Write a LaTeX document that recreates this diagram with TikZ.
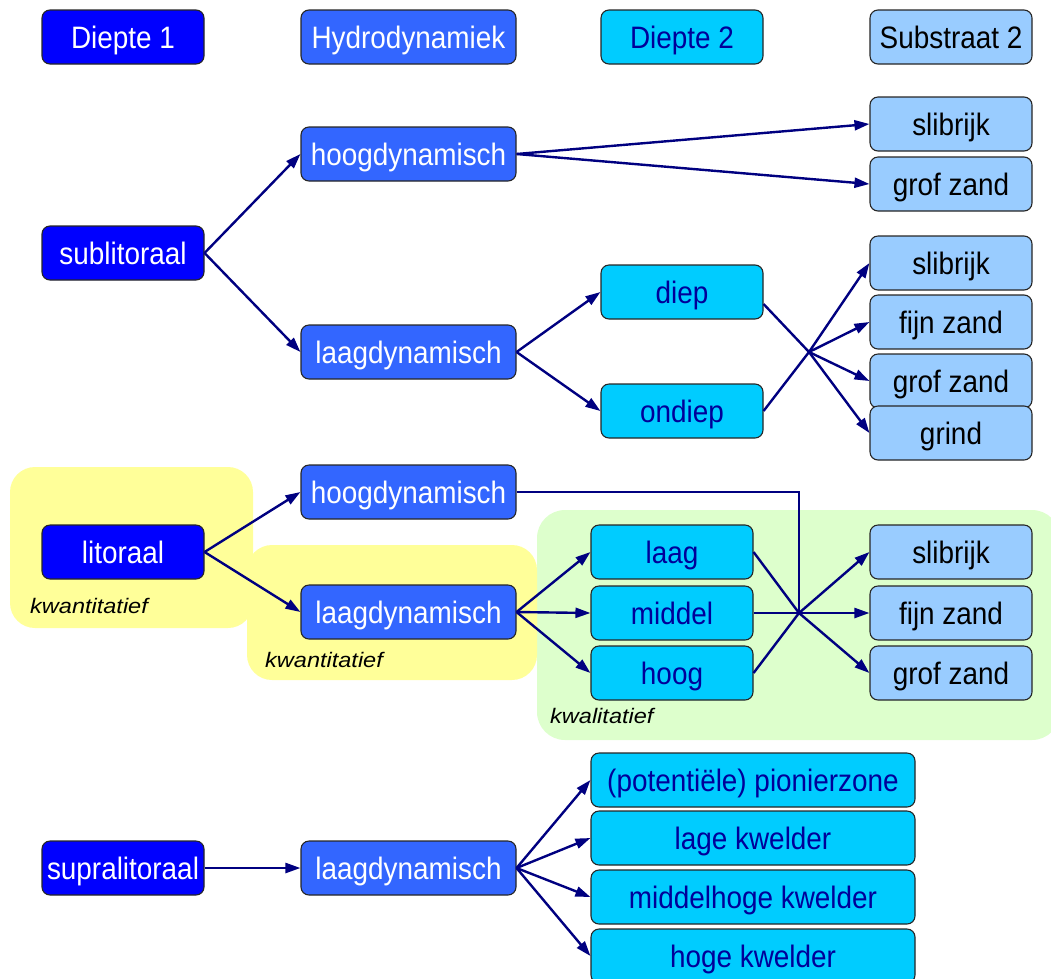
\documentclass[tikz,border=0pt]{standalone}
\usepackage{fontspec}
\setmainfont{Liberation Sans}[FakeStretch=0.9]
\newfontfamily\notefont{Liberation Sans Italic}[FakeStretch=1.12]
\usetikzlibrary{arrows.meta,calc}
\definecolor{dOne}{RGB}{0,0,255}
\definecolor{hydro}{RGB}{51,102,255}
\definecolor{dTwo}{RGB}{0,204,255}
\definecolor{subc}{RGB}{153,204,255}
\definecolor{arr}{RGB}{0,0,128}
\definecolor{txtb}{RGB}{0,0,153}
\definecolor{yel}{RGB}{255,255,153}
\definecolor{grn}{RGB}{221,255,204}
\begin{document}
\begin{tikzpicture}[x=1pt,y=-1pt,
 box/.style={draw=black!85, line width=1.1pt, rounded corners=8pt, minimum height=54pt, inner sep=0pt, text height=22pt, text depth=0pt, font=\fontsize{31}{34}\selectfont},
 bA/.style={box, fill=dOne, text=white, minimum width=162pt},
 bB/.style={box, fill=hydro, text=white, minimum width=215pt},
 bC/.style={box, fill=dTwo, text=txtb, minimum width=162pt},
 bD/.style={box, fill=subc, text=black, minimum width=162pt},
 bE/.style={box, fill=dTwo, text=txtb, minimum width=324pt},
 ar/.style={draw=arr, line width=2.4pt, -{Triangle[length=15pt,width=10pt]}},
 ln/.style={draw=arr, line width=2.4pt},
 note/.style={font=\notefont\fontsize{21}{23}\selectfont, anchor=base west, inner sep=0pt}]
\useasboundingbox (0,0) rectangle (1051,978);
% backgrounds
\fill[grn, rounded corners=28pt] (537,510) rectangle (1060,740);
\fill[yel, rounded corners=25pt] (247,545) rectangle (537,680);
\fill[yel, rounded corners=25pt] (10,467) rectangle (253,628);
\node[note] (k1) at (30,613) {kwantitatief};
\node[note] (k2) at (265,667) {kwantitatief};
\node[note] (k3) at (550,723) {kwalitatief};
% header
\node[bA] (h1) at (123,37) {Diepte 1};
\node[bB] (h2) at (408.5,37) {Hydrodynamiek};
\node[bC] (h3) at (682,37) {Diepte 2};
\node[bD] (h4) at (951,37) {Substraat 2};
% sublitoraal
\node[bA] (sub) at (123,253) {sublitoraal};
\node[bB] (shd) at (408.5,154) {hoogdynamisch};
\node[bB] (sld) at (408.5,352) {laagdynamisch};
\node[bD] (s1) at (951,124) {slibrijk};
\node[bD] (s2) at (951,184) {grof zand};
\node[bC] (diep) at (682,292) {diep};
\node[bC] (ondiep) at (682,411) {ondiep};
\node[bD] (s3) at (951,263) {slibrijk};
\node[bD] (s4) at (951,322) {fijn zand};
\node[bD] (s5) at (951,381) {grof zand};
\node[bD] (s6) at (951,433) {grind};
\coordinate (j1) at (809,352);
\draw[ar] (sub.east) -- (shd.west);
\draw[ar] (sub.east) -- (sld.west);
\draw[ar] (shd.east) -- (s1.west);
\draw[ar] (shd.east) -- (s2.west);
\draw[ar] (sld.east) -- (diep.west);
\draw[ar] (sld.east) -- (ondiep.west);
\draw[ln] ([yshift=-12pt]diep.east) -- (j1);
\draw[ln] (ondiep.east) -- (j1);
\draw[ar] (j1) -- (s3.west);
\draw[ar] (j1) -- (s4.west);
\draw[ar] (j1) -- (s5.west);
\draw[ar] (j1) -- (s6.west);
% litoraal
\node[bA] (lit) at (123,552) {litoraal};
\node[bB] (lhd) at (408.5,492) {hoogdynamisch};
\node[bB] (lld) at (408.5,612) {laagdynamisch};
\node[bC] (laag) at (672,552) {laag};
\node[bC] (midd) at (672,613) {middel};
\node[bC] (hoog) at (672,673) {hoog};
\node[bD] (l1) at (951,552) {slibrijk};
\node[bD] (l2) at (951,613) {fijn zand};
\node[bD] (l3) at (951,673) {grof zand};
\coordinate (j2) at (799,613);
\coordinate (c2) at (799,492);
\draw[ar] (lit.east) -- (lhd.west);
\draw[ar] (lit.east) -- (lld.west);
\draw[ar] (lld.east) -- (laag.west);
\draw[ar] (lld.east) -- (midd.west);
\draw[ar] (lld.east) -- (hoog.west);
\draw[ln] (lhd.east) -- (c2) -- (j2);
\draw[ln] (laag.east) -- (j2);
\draw[ln] (midd.east) -- (j2);
\draw[ln] (hoog.east) -- (j2);
\draw[ar] (j2) -- (l1.west);
\draw[ar] (j2) -- (l2.west);
\draw[ar] (j2) -- (l3.west);
% supralitoraal
\node[bA] (sup) at (123,868) {supralitoraal};
\node[bB] (uld) at (408.5,868) {laagdynamisch};
\node[bE] (u1) at (753,780) {(potentiële) pionierzone};
\node[bE] (u2) at (753,838) {lage kwelder};
\node[bE] (u3) at (753,897) {middelhoge kwelder};
\node[bE] (u4) at (753,956) {hoge kwelder};
\draw[ar] (sup.east) -- (uld.west);
\draw[ar] (uld.east) -- (u1.west);
\draw[ar] (uld.east) -- (u2.west);
\draw[ar] (uld.east) -- (u3.west);
\draw[ar] (uld.east) -- (u4.west);
\end{tikzpicture}
\end{document}
